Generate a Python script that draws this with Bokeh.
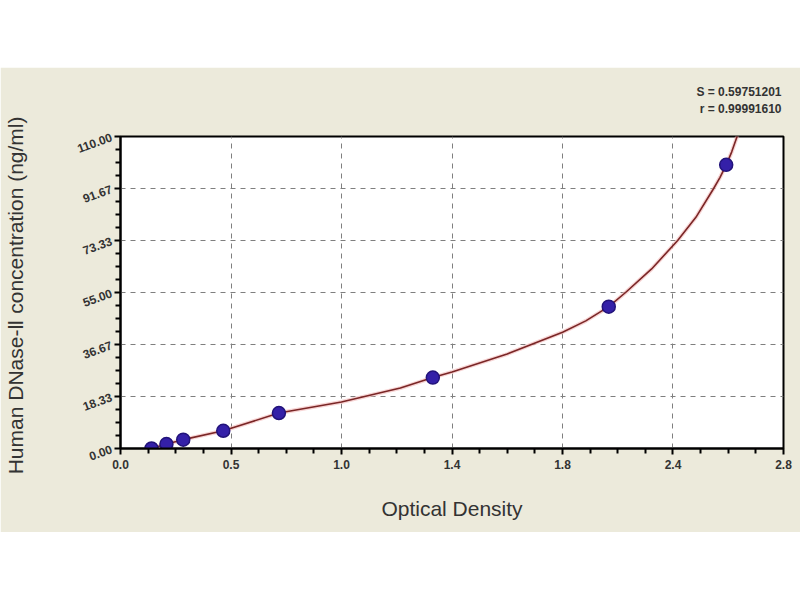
import numpy as np
from bokeh.plotting import figure
from bokeh.models import Range1d, FixedTicker, Title, Spacer, ColumnDataSource
from bokeh.layouts import column
from bokeh.embed import file_html
from bokeh.resources import INLINE

# ---- data ----
od_values = [0.131, 0.194, 0.265, 0.434, 0.669, 1.319, 2.062, 2.558]
conc_values = [0.0, 1.56, 3.12, 6.25, 12.5, 25.0, 50.0, 100.0]

curve_od = [0.131, 0.194, 0.265, 0.434, 0.669, 0.933, 1.182, 1.319, 1.4, 1.633,
            1.867, 1.965, 2.062, 2.133, 2.243, 2.353, 2.43, 2.505, 2.532, 2.558,
            2.581, 2.604, 2.62]
curve_conc = [0.0, 1.56, 3.12, 6.25, 12.5, 16.4, 21.3, 25.0, 27.0, 33.3,
              41.0, 45.0, 50.0, 55.0, 63.3, 73.33, 81.5, 91.67, 95.6, 100.0,
              104.5, 110.0, 113.5]

x_tick_values = [0.0, 0.4667, 0.9333, 1.4, 1.8667, 2.3333, 2.8]
x_tick_labels = ["0.0", "0.5", "1.0", "1.4", "1.8", "2.4", "2.8"]
y_tick_values = [0.0, 18.33, 36.67, 55.0, 73.33, 91.67, 110.0]
y_tick_labels = ["0.00", "18.33", "36.67", "55.00", "73.33", "91.67", "110.00"]

stats_lines = ["S = 0.59751201", "r = 0.99991610"]
x_title = "Optical Density"
y_title = "Human DNase-Ⅱ  concentration (ng/ml)"

BEIGE = "#ECEADB"
TXT = "#333333"


def minor_between(ticks, n):
    out = []
    for a, b in zip(ticks[:-1], ticks[1:]):
        out.extend(list(np.linspace(a, b, n + 1)[1:-1]))
    return out


p = figure(width=800, height=465, output_backend="svg", toolbar_location=None,
           x_range=Range1d(0, 2.8), y_range=Range1d(0, 110),
           min_border_left=120, min_border_right=17, min_border_top=69,
           min_border_bottom=84)
p.background_fill_color = "white"
p.border_fill_color = BEIGE
p.outline_line_color = "black"
p.outline_line_width = 2

xt = FixedTicker(ticks=x_tick_values, minor_ticks=minor_between(x_tick_values, 4))
yt = FixedTicker(ticks=y_tick_values, minor_ticks=minor_between(y_tick_values, 4))
p.xaxis.ticker = xt
p.yaxis.ticker = yt
p.xgrid.ticker = FixedTicker(ticks=x_tick_values)
p.ygrid.ticker = FixedTicker(ticks=y_tick_values)
p.xaxis.major_label_overrides = {v: s for v, s in zip(x_tick_values, x_tick_labels)}
p.yaxis.major_label_overrides = {v: s for v, s in zip(y_tick_values, y_tick_labels)}

for g in (p.xgrid, p.ygrid):
    g.grid_line_color = "#7f7f7f"
    g.grid_line_dash = "5 5"
    g.grid_line_width = 1

for ax in (p.xaxis, p.yaxis):
    ax.axis_line_color = "black"
    ax.axis_line_width = 2
    ax.major_tick_line_color = "black"
    ax.major_tick_line_width = 2
    ax.minor_tick_line_color = "black"
    ax.minor_tick_line_width = 2
    ax.major_tick_out = 6
    ax.major_tick_in = 0
    ax.minor_tick_out = 5
    ax.minor_tick_in = 0
    ax.major_label_text_font = "Liberation Sans"
    ax.major_label_text_font_style = "bold"
    ax.major_label_text_font_size = "12px"
    ax.major_label_text_color = TXT
    ax.axis_label_text_font = "Liberation Sans"
    ax.axis_label_text_font_style = "normal"
    ax.axis_label_text_color = TXT

p.yaxis.major_label_orientation = 0.35
p.xaxis.major_label_standoff = 5
p.yaxis.major_label_standoff = 3

p.xaxis.axis_label = x_title
p.xaxis.axis_label_text_font_size = "21px"
p.xaxis.axis_label_standoff = 25
p.yaxis.axis_label = y_title
p.yaxis.axis_label_text_font_size = "21px"
p.yaxis.axis_label_standoff = 45

curve = ColumnDataSource(dict(x=curve_od, y=curve_conc))
pts = ColumnDataSource(dict(x=od_values, y=conc_values))

p.line("x", "y", source=curve, line_color="#f2b8b8", line_width=4, line_alpha=0.6)
p.line("x", "y", source=curve, line_color="#7a2626", line_width=1.6)
p.scatter("x", "y", source=pts, marker="circle", size=13,
          fill_color="#3420a8", line_color="#22137a", line_width=1.5)

# stats text above the frame, right-aligned (closest to frame added first)
for txt, so in ((" ", 5), (stats_lines[1], 0), (stats_lines[0], 2)):
    p.add_layout(Title(text=txt, align="right", offset=2, standoff=so,
                       text_font="Liberation Sans", text_font_style="bold",
                       text_font_size="12px", text_color=TXT), "above")

layout = column(Spacer(width=800, height=67), p)
open("out.html", "w").write(file_html(layout, INLINE))
